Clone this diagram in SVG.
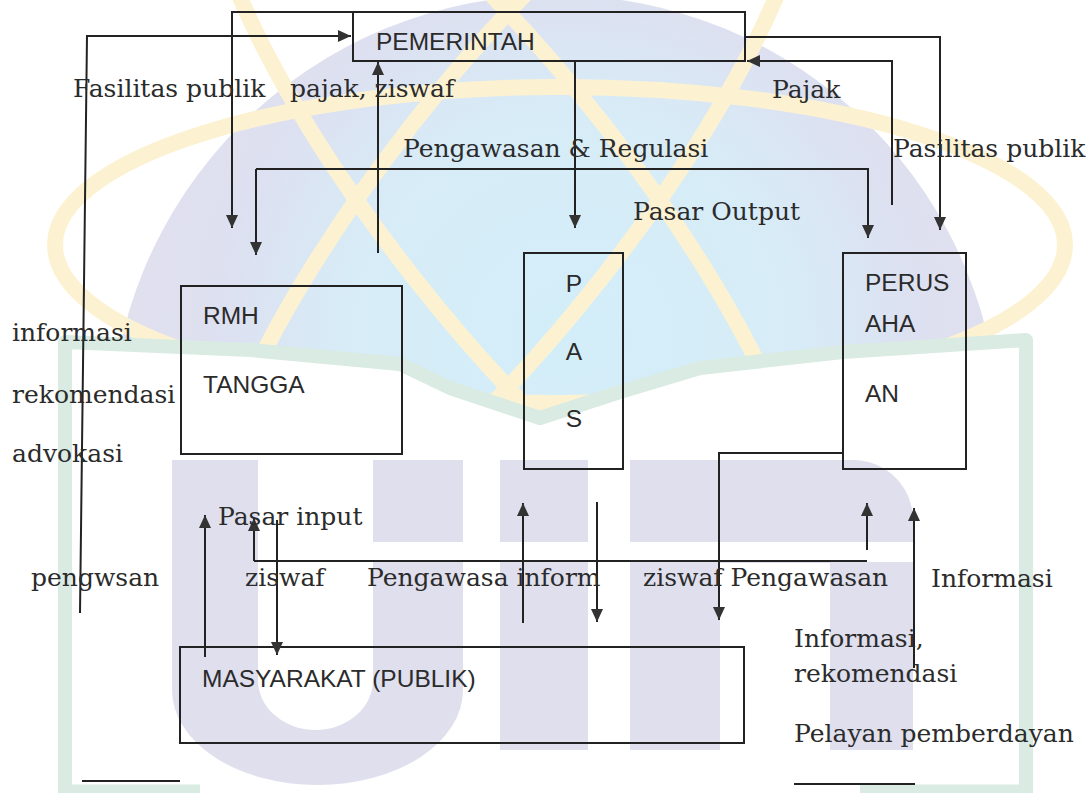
<svg xmlns="http://www.w3.org/2000/svg" width="1092" height="793" viewBox="0 0 1092 793">
<defs>
<style>
.ln{fill:none;stroke:#222;stroke-width:2}
.arr{marker-end:url(#ah)}
.box{fill:none;stroke:#222;stroke-width:2}
.sf{font-family:"DejaVu Serif","Liberation Serif",serif;font-size:25px;fill:#2b2b2b}
.ss{font-family:"Liberation Sans",Arial,sans-serif;font-size:24.5px;fill:#2b2b2b}
.lav{fill:#dfdfee}
.orb{fill:none;stroke:#fcf2d2;stroke-width:16}
</style>
<marker id="ah" markerWidth="14" markerHeight="12" refX="13" refY="6" orient="auto" markerUnits="userSpaceOnUse"><path d="M0,0 L13,6 L0,12 Z" fill="#333"/></marker>
<radialGradient id="bg" cx="570" cy="340" r="450" gradientUnits="userSpaceOnUse">
<stop offset="0" stop-color="#d3eef9"/><stop offset="0.5" stop-color="#d7ecf7"/><stop offset="0.78" stop-color="#dde0f0"/><stop offset="1" stop-color="#e1e0ef"/>
</radialGradient>
<clipPath id="topclip"><polygon points="0,0 1092,0 1092,340 1026,340 843,352 700,368 620,392 540,418 450,388 400,364 250,350 65,342 0,342"/></clipPath>
</defs>
<rect width="1092" height="793" fill="#ffffff"/>
<g id="watermark">
<g clip-path="url(#topclip)">
<circle cx="555" cy="440" r="445" fill="url(#bg)"/>
<ellipse class="orb" cx="560" cy="245" rx="505" ry="158"/>
<ellipse class="orb" cx="508" cy="200" rx="460" ry="122" transform="rotate(52 508 200)"/>
<ellipse class="orb" cx="508" cy="200" rx="460" ry="122" transform="rotate(-52 508 200)"/>
</g>
<path class="lav" d="M172,460 V690 A145.5 95 0 0 0 463,690 V460 H373 V680 A57.5 50 0 0 1 258,680 V460 Z"/>
<rect class="lav" x="500" y="460" width="88" height="290"/>
<path class="lav" d="M630,750 V460 H853 A60 60 0 0 1 913,520 V750 H830 V563 H720 V750 Z"/>
<rect x="258" y="542" width="680" height="20" fill="#ffffff"/>
<polyline points="65,793 65,342 250,350 400,364 450,388 540,418 620,392 700,368 843,352 1026,340 1026,793" fill="none" stroke="#d9ebe2" stroke-width="14" stroke-linejoin="round"/>
<path d="M65,789 H200 M860,789 H1026" stroke="#d9ebe2" stroke-width="9" fill="none"/>
</g>
<g id="pemerintah">
<rect class="box" x="353" y="12" width="392" height="49"/>
<text class="ss" x="376" y="50">PEMERINTAH</text>
</g>
<g id="rumah-tangga">
<rect class="box" x="181" y="286" width="221" height="168"/>
<text class="ss" x="203" y="324">RMH</text>
<text class="ss" x="203" y="393">TANGGA</text>
</g>
<g id="pasar">
<rect class="box" x="524" y="253" width="99" height="216"/>
<text class="ss" x="574" y="292" text-anchor="middle">P</text>
<text class="ss" x="574" y="360" text-anchor="middle">A</text>
<text class="ss" x="574" y="427" text-anchor="middle">S</text>
</g>
<g id="perusahaan">
<rect class="box" x="843" y="253" width="123" height="216"/>
<text class="ss" x="865" y="291">PERUS</text>
<text class="ss" x="865" y="332">AHA</text>
<text class="ss" x="865" y="402">AN</text>
</g>
<g id="masyarakat">
<rect class="box" x="180" y="647" width="564" height="96"/>
<text class="ss" x="202" y="687">MASYARAKAT (PUBLIK)</text>
</g>
<g id="connectors">
<path class="ln arr" d="M80,613 L87,36 H351"/>
<path class="ln arr" d="M353,12 H232 V228"/>
<path class="ln arr" d="M378,253 V62"/>
<path class="ln arr" d="M256,169 H868 V238"/>
<path class="ln arr" d="M256,169 V255"/>
<path class="ln arr" d="M575,61 V228"/>
<path class="ln arr" d="M892,205 V61 H747"/>
<path class="ln arr" d="M745,37 H940 V230"/>
<path class="ln arr" d="M843,453 H719 V620"/>
<path class="ln arr" d="M205,657 V515"/>
<path class="ln" d="M254,561 H867"/>
<path class="ln arr" d="M254,561 V518"/>
<path class="ln arr" d="M277,520 V655"/>
<path class="ln arr" d="M523,623 V503"/>
<path class="ln arr" d="M597,502 V622"/>
<path class="ln arr" d="M867,550 V503"/>
<path class="ln arr" d="M914,668 V508"/>
<path class="ln" d="M82,781 H180"/>
<path class="ln" d="M794,784 H915"/>
</g>
<g id="labels">
<text class="sf" x="73" y="97">Fasilitas publik</text>
<text class="sf" x="290" y="97">pajak, ziswaf</text>
<text class="sf" x="772" y="98">Pajak</text>
<text class="sf" x="403" y="157">Pengawasan &amp; Regulasi</text>
<text class="sf" x="893" y="157">Pasilitas publik</text>
<text class="sf" x="633" y="220">Pasar Output</text>
<text class="sf" x="12" y="341">informasi</text>
<text class="sf" x="12" y="403">rekomendasi</text>
<text class="sf" x="12" y="462">advokasi</text>
<text class="sf" x="218" y="525">Pasar input</text>
<text class="sf" x="31" y="586">pengwsan</text>
<text class="sf" x="245" y="586">ziswaf</text>
<text class="sf" x="367" y="586">Pengawasa inform</text>
<text class="sf" x="643" y="586">ziswaf Pengawasan</text>
<text class="sf" x="931" y="587">Informasi</text>
<text class="sf" x="794" y="647">Informasi,</text>
<text class="sf" x="794" y="682">rekomendasi</text>
<text class="sf" x="794" y="742">Pelayan pemberdayan</text>
</g>
</svg>
